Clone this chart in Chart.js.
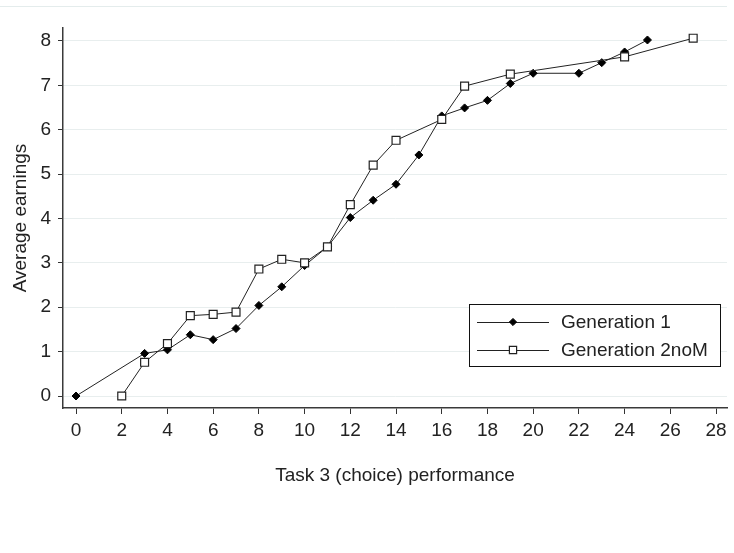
<!DOCTYPE html>
<html>
<head>
<meta charset="utf-8">
<script src="https://cdn.jsdelivr.net/npm/chart.js@4/dist/chart.umd.min.js"></script>
<style>
  html, body { margin: 0; padding: 0; background: #ffffff; }
  #wrap { position: relative; width: 734px; height: 553px; overflow: hidden; }
  #rule { position: absolute; left: 0; top: 6px; width: 727px; height: 1px; background: #e4ecec; }
  canvas { position: absolute; left: 0; top: 0; }
</style>
</head>
<body>
<div id="wrap">
  <div id="rule"></div>
  <canvas id="c" width="734" height="553"></canvas>
</div>
<script>
// ---- data ----
const seriesNames = ['Generation 1', 'Generation 2noM'];
const gen1X = [0, 3, 4, 5, 6, 7, 8, 9, 10, 11, 12, 13, 14, 15, 16, 17, 18, 19, 20, 22, 23, 24, 25];
const gen1Y = [0, 0.96, 1.04, 1.38, 1.27, 1.52, 2.04, 2.46, 2.94, 3.36, 4.02, 4.41, 4.77, 5.43, 6.31, 6.49, 6.66, 7.04, 7.27, 7.27, 7.51, 7.75, 8.02];
const gen2X = [2, 3, 4, 5, 6, 7, 8, 9, 10, 11, 12, 13, 14, 16, 17, 19, 24, 27];
const gen2Y = [0, 0.76, 1.18, 1.81, 1.84, 1.89, 2.86, 3.08, 3.00, 3.36, 4.31, 5.20, 5.76, 6.23, 6.98, 7.25, 7.64, 8.06];
const xTicks = [0, 2, 4, 6, 8, 10, 12, 14, 16, 18, 20, 22, 24, 26, 28];
const yTicks = [0, 1, 2, 3, 4, 5, 6, 7, 8];
const xTitle = 'Task 3 (choice) performance';
const yTitle = 'Average earnings';

const toPoints = (xs, ys) => xs.map((x, i) => ({ x: x, y: ys[i] }));

const FONT = '"Liberation Sans", Arial, sans-serif';
const INK = '#222222';

const boxLegend = {
  id: 'boxLegend',
  afterDatasetsDraw(chart, args, o) {
    const ctx = chart.ctx;
    ctx.save();
    ctx.fillStyle = '#ffffff';
    ctx.fillRect(o.x, o.y, o.w, o.h);
    ctx.strokeStyle = '#111111';
    ctx.lineWidth = 1;
    ctx.strokeRect(o.x + 0.5, o.y + 0.5, o.w, o.h);
    o.order.forEach((dsIndex, row) => {
      const ds = chart.data.datasets[dsIndex];
      const cy = o.rows[row];
      ctx.strokeStyle = ds.borderColor;
      ctx.lineWidth = 1;
      ctx.beginPath();
      ctx.moveTo(o.lineX0, cy + 0.5);
      ctx.lineTo(o.lineX1, cy + 0.5);
      ctx.stroke();
      const mx = (o.lineX0 + o.lineX1) / 2;
      ctx.fillStyle = ds.pointBackgroundColor;
      ctx.strokeStyle = ds.pointBorderColor;
      ctx.lineWidth = ds.pointBorderWidth;
      ctx.beginPath();
      if (ds.pointStyle === 'rectRot') {
        const r = o.diamondR;
        ctx.moveTo(mx, cy - r); ctx.lineTo(mx + r, cy); ctx.lineTo(mx, cy + r); ctx.lineTo(mx - r, cy); ctx.closePath();
      } else {
        const s = o.squareHalf;
        ctx.rect(mx - s, cy - s, 2 * s, 2 * s);
      }
      ctx.fill();
      ctx.stroke();
      ctx.fillStyle = INK;
      ctx.font = o.font;
      ctx.textBaseline = 'middle';
      ctx.textAlign = 'left';
      ctx.fillText(ds.label, o.textX, cy + 1);
    });
    ctx.restore();
  }
};

new Chart(document.getElementById('c'), {
  type: 'scatter',
  data: {
    datasets: [
      {
        label: seriesNames[0],
        data: toPoints(gen1X, gen1Y),
        showLine: true,
        borderColor: '#222222',
        borderWidth: 1,
        pointStyle: 'rectRot',
        pointRadius: 4,
        pointBackgroundColor: '#000000',
        pointBorderColor: '#000000',
        pointBorderWidth: 1,
        order: 1
      },
      {
        label: seriesNames[1],
        data: toPoints(gen2X, gen2Y),
        showLine: true,
        borderColor: '#222222',
        borderWidth: 1,
        pointStyle: 'rect',
        pointRadius: 5.6,
        pointBackgroundColor: '#ffffff',
        pointBorderColor: '#222222',
        pointBorderWidth: 1.2,
        order: 0
      }
    ]
  },
  options: {
    responsive: false,
    animation: false,
    devicePixelRatio: 1,
    layout: { padding: { top: 28, left: 0, right: 7, bottom: 0 } },
    plugins: {
      legend: { display: false },
      tooltip: { enabled: false },
      boxLegend: {
        order: [0, 1],
        x: 469, y: 304, w: 251, h: 62,
        rows: [322, 350],
        lineX0: 477, lineX1: 549,
        textX: 561,
        diamondR: 3.6, squareHalf: 3.6,
        font: '19px ' + FONT
      }
    },
    scales: {
      x: {
        type: 'linear',
        min: -0.57,
        max: 28.48,
        afterBuildTicks: (s) => { s.ticks = xTicks.map(v => ({ value: v })); },
        afterFit: (s) => { s.height = 145; },
        grid: { drawOnChartArea: false, drawTicks: true, tickLength: 6, tickColor: '#333333', tickWidth: 1 },
        border: { display: true, color: '#3a3a3a', width: 1.5 },
        ticks: { color: INK, font: { family: FONT, size: 19 }, padding: 5, maxRotation: 0, autoSkip: false },
        title: { display: true, text: xTitle, color: INK, font: { family: FONT, size: 19 }, padding: { top: 0, bottom: 66 } }
      },
      y: {
        type: 'linear',
        min: -0.27,
        max: 8.29,
        afterBuildTicks: (s) => { s.ticks = yTicks.map(v => ({ value: v })); },
        afterFit: (s) => { s.width = 63; },
        grid: { drawOnChartArea: true, color: '#e8eeee', lineWidth: 1, drawTicks: true, tickLength: 5, tickColor: '#333333', tickWidth: 1 },
        border: { display: true, color: '#3a3a3a', width: 1.5 },
        ticks: { color: INK, font: { family: FONT, size: 19 }, padding: 7, autoSkip: false },
        title: { display: true, text: yTitle, color: INK, font: { family: FONT, size: 19 }, padding: { top: 9, bottom: 0 } }
      }
    }
  },
  plugins: [boxLegend]
});
</script>
</body>
</html>
